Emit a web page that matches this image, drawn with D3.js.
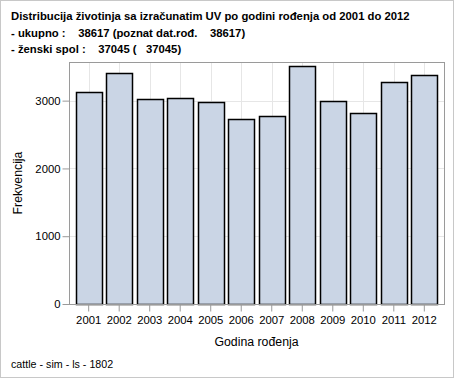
<!DOCTYPE html>
<html>
<head>
<meta charset="utf-8">
<script src="https://cdn.jsdelivr.net/npm/d3@7"></script>
<style>
  body { margin: 0; background: #fff; }
  text { font-family: "Liberation Sans", Arial, sans-serif; }
</style>
</head>
<body>
<div id="chart"></div>
<script>
// chart data
const years = ["2001", "2002", "2003", "2004", "2005", "2006", "2007", "2008", "2009", "2010", "2011", "2012"];
const counts = [3134, 3415, 3031, 3046, 2987, 2736, 2780, 3508, 3001, 2824, 3282, 3385];
const yTicks = [0, 1000, 2000, 3000];
const titleLines = [
  "Distribucija životinja sa izračunatim UV po godini rođenja od 2001 do 2012",
  "- ukupno :    38617 (poznat dat.rođ.    38617)",
  "- ženski spol :    37045 (   37045)"
];
const xTitle = "Godina rođenja";
const yTitle = "Frekvencija";
const footnote = "cattle - sim - ls - 1802";

const width = 454, height = 378;
const plot = { left: 69, right: 444, top: 62, bottom: 304 };

const svg = d3.select("#chart").append("svg")
  .attr("width", width)
  .attr("height", height);

// outer frame
svg.append("rect")
  .attr("x", 0.5).attr("y", 0.5)
  .attr("width", width - 1).attr("height", height - 1)
  .attr("fill", "#fff")
  .attr("stroke", "#c8c8c8");

const x = d3.scaleBand()
  .domain(years)
  .range([plot.left, plot.right])
  .paddingInner(0.15)
  .paddingOuter(0.22);

const y = d3.scaleLinear()
  .domain([0, 3570])
  .range([plot.bottom, plot.top]);

// gridlines
svg.append("g").selectAll("line.h")
  .data(yTicks.filter(d => d > 0))
  .enter().append("line")
  .attr("x1", plot.left).attr("x2", plot.right)
  .attr("y1", d => Math.round(y(d)) + 0.5)
  .attr("y2", d => Math.round(y(d)) + 0.5)
  .attr("stroke", "#e6e6e6");

svg.append("g").selectAll("line.v")
  .data(years)
  .enter().append("line")
  .attr("x1", d => Math.round(x(d) + x.bandwidth() / 2) + 0.5)
  .attr("x2", d => Math.round(x(d) + x.bandwidth() / 2) + 0.5)
  .attr("y1", plot.top).attr("y2", plot.bottom)
  .attr("stroke", "#e6e6e6");

// bars
svg.append("g").selectAll("rect")
  .data(counts)
  .enter().append("rect")
  .attr("x", (d, i) => Math.round(x(years[i])) + 0.5)
  .attr("y", d => Math.round(y(d)) + 0.5)
  .attr("width", Math.round(x.bandwidth()))
  .attr("height", d => Math.round(y(0)) - Math.round(y(d)))
  .attr("fill", "#cad5e5")
  .attr("stroke", "#000")
  .attr("stroke-width", 1.5);

// plot frame
svg.append("rect")
  .attr("x", plot.left + 0.5).attr("y", plot.top + 0.5)
  .attr("width", plot.right - plot.left)
  .attr("height", plot.bottom - plot.top)
  .attr("fill", "none")
  .attr("stroke", "#9a9a9a");

// axes
const xAxis = svg.append("g")
  .attr("transform", `translate(0,${plot.bottom + 0.5})`)
  .call(d3.axisBottom(x).tickSize(7).tickSizeOuter(0));
const yAxis = svg.append("g")
  .attr("transform", `translate(${plot.left + 0.5},0)`)
  .call(d3.axisLeft(y).tickValues(yTicks).tickFormat(d3.format("d")).tickSize(7).tickSizeOuter(0));

[xAxis, yAxis].forEach(g => {
  g.select(".domain").remove();
  g.selectAll(".tick line").attr("stroke", "#9a9a9a");
  g.selectAll(".tick text")
    .attr("fill", "#000")
    .style("font-family", "'Liberation Sans', Arial, sans-serif")
    .style("font-size", "11.3px");
});
xAxis.selectAll(".tick text").attr("dy", "0.71em").attr("y", 11);
yAxis.selectAll(".tick text").attr("x", -9);

// axis titles
svg.append("text")
  .attr("x", (plot.left + plot.right) / 2)
  .attr("y", 346)
  .attr("text-anchor", "middle")
  .style("font-size", "12.3px")
  .text(xTitle);

svg.append("text")
  .attr("transform", `translate(22,${(plot.top + plot.bottom) / 2}) rotate(-90)`)
  .attr("text-anchor", "middle")
  .style("font-size", "12.3px")
  .text(yTitle);

// title block
svg.append("g").selectAll("text")
  .data(titleLines)
  .enter().append("text")
  .attr("x", 11)
  .attr("y", (d, i) => 20 + i * 16.7)
  .style("font-size", "11.3px")
  .style("font-weight", "bold")
  .style("white-space", "pre")
  .attr("xml:space", "preserve")
  .text(d => d);

// footnote
svg.append("text")
  .attr("x", 11)
  .attr("y", 368)
  .style("font-size", "10.7px")
  .text(footnote);
</script>
</body>
</html>
